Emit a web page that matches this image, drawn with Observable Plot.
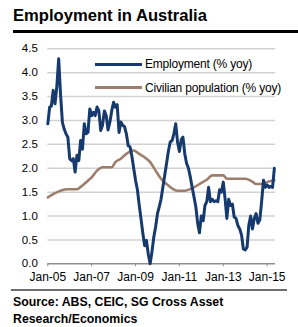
<!DOCTYPE html>
<html>
<head>
<meta charset="utf-8">
<script src="https://cdn.jsdelivr.net/npm/d3@7"></script>
<script src="https://cdn.jsdelivr.net/npm/@observablehq/plot@0.6"></script>
<style>
  html, body { margin: 0; padding: 0; background: #fff; }
  #wrap { position: relative; width: 298px; height: 327px; overflow: hidden; font-family: "Liberation Sans", Arial, sans-serif; color: #000; }
  #title { position: absolute; left: 13px; top: 7.7px; font-weight: bold; font-size: 16.6px; line-height: 16.6px; white-space: nowrap; }
  #topRule { position: absolute; left: 13px; right: 0; top: 30px; height: 3px; background: #000; }
  #chart { position: absolute; left: 0; top: 40px; }
  .leg { position: absolute; left: 95px; width: 47px; height: 3px; }
  .legText { position: absolute; left: 145px; font-size: 12px; line-height: 14px; letter-spacing: -0.2px; white-space: nowrap; }
  #botRule { position: absolute; left: 11px; width: 276px; top: 289px; height: 2px; background: #6e6e6e; }
  #source { position: absolute; left: 13px; top: 294px; font-weight: bold; font-size: 12.3px; line-height: 17px; white-space: nowrap; }
</style>
</head>
<body>
<div id="wrap">
  <div id="title">Employment in Australia</div>
  <div id="topRule"></div>
  <div id="chart"></div>
  <div class="leg" id="legEmp" style="top:62.5px"></div>
  <div class="legText" id="legEmpText" style="top:57.3px"></div>
  <div class="leg" id="legPop" style="top:85.5px"></div>
  <div class="legText" id="legPopText" style="top:80.6px"></div>
  <div id="botRule"></div>
  <div id="source">Source: ABS, CEIC, SG Cross Asset<br>Research/Economics</div>
</div>
<script>
// ---- data ----
const seriesNames = ["Employment (% yoy)", "Civilian population (% yoy)"];
const seriesColors = ["#16396e", "#9e7d6c"];

// Employment, monthly from Jan-2005
const empStart = "2005-01";
const empValues = [
  2.93,3.28,3.30,3.63,3.35,3.72,4.29,3.55,2.96,2.82,
  2.72,2.65,2.20,2.16,2.20,1.92,2.27,2.16,2.58,2.40,
  2.93,2.72,2.75,3.24,3.10,3.17,3.10,3.28,3.20,2.79,
  2.90,3.20,3.10,2.80,2.97,3.20,3.38,3.28,3.33,2.75,
  2.97,2.90,2.87,2.72,2.47,2.45,2.25,2.00,1.75,1.55,
  1.25,0.95,0.65,0.38,0.49,0.20,0.00,0.25,0.56,0.77,
  1.05,1.20,1.35,1.60,1.85,2.10,2.35,2.55,2.58,2.72,
  2.93,2.55,2.35,2.60,2.65,2.30,2.10,2.00,1.82,1.60,
  1.40,1.20,0.85,0.65,1.00,0.90,1.22,1.30,1.60,1.30,
  1.35,1.30,1.32,1.30,1.55,1.50,1.71,1.35,0.95,1.35,
  1.22,1.25,0.98,0.95,0.80,0.73,0.60,0.31,0.29,0.35,
  0.80,1.00,0.73,0.95,1.05,0.85,0.92,1.30,1.75,1.60,
  1.65,1.60,1.62,1.60,2.00
];

// Civilian population
const popMonths = ["2005-01","2005-04","2005-08","2005-12","2006-05","2006-08","2006-11","2007-01","2007-04","2007-07",
  "2007-12","2008-02","2008-05","2008-08","2008-12","2009-03","2009-07","2009-09","2009-12","2010-03",
  "2010-07","2010-12","2011-04","2011-08","2011-12","2012-04","2012-07","2013-01","2013-03","2014-01",
  "2014-05","2014-07","2014-11","2015-01","2015-05"];
const popValues = [1.39,1.46,1.53,1.56,1.56,1.64,1.74,1.81,1.95,2.02,
  2.02,2.13,2.20,2.30,2.37,2.30,2.20,2.13,1.95,1.78,
  1.64,1.53,1.53,1.58,1.67,1.76,1.85,1.85,1.78,1.78,
  1.72,1.67,1.67,1.71,1.75];

const yTicks = [0.0,0.5,1.0,1.5,2.0,2.5,3.0,3.5,4.0,4.5];
const xTickLabels = ["Jan-05","Jan-07","Jan-09","Jan-11","Jan-13","Jan-15"];

// ---- build tables ----
const parseM = d3.utcParse("%Y-%m");
const e0 = parseM(empStart);
const emp = empValues.map((v, i) => ({date: d3.utcMonth.offset(e0, i), value: v}));
const pop = popMonths.map((m, i) => ({date: parseM(m), value: popValues[i]}));
const parseTick = d3.utcParse("%b-%y");
const xTicks = xTickLabels.map(s => parseTick(s));

const chart = Plot.plot({
  width: 298,
  height: 250,
  marginLeft: 47.3,
  marginRight: 23,
  marginTop: 8.3,
  marginBottom: 26.7,
  style: {fontFamily: "'Liberation Sans', Arial, sans-serif", background: "transparent", color: "#000"},
  x: {type: "utc", domain: [new Date(Date.UTC(2005,0,1)), new Date(Date.UTC(2015,4,20))]},
  y: {domain: [0, 4.5]},
  marks: [
    Plot.gridY(yTicks.filter(d => d > 0), {stroke: "#d2d2d2", strokeOpacity: 1, strokeWidth: 1.5}),
    Plot.axisY(yTicks, {tickSize: 0, tickPadding: 10, tickFormat: d => d.toFixed(1), fontSize: 11.5, fill: "#000", label: null}),
    Plot.ruleY([0], {stroke: "#8f8f8f", strokeWidth: 1.5}),
    Plot.axisX(xTicks, {tickSize: 3, tickPadding: 5.5, tickFormat: d3.utcFormat("%b-%y"), fontSize: 12, stroke: "#8f8f8f", fill: "#000", label: null}),
    Plot.line(pop, {x: "date", y: "value", stroke: seriesColors[1], strokeWidth: 2.6, curve: "monotone-x"}),
    Plot.line(emp, {x: "date", y: "value", stroke: seriesColors[0], strokeWidth: 3}),
  ]
});
document.getElementById("chart").appendChild(chart);

document.getElementById("legEmp").style.background = seriesColors[0];
document.getElementById("legPop").style.background = seriesColors[1];
document.getElementById("legEmpText").textContent = seriesNames[0];
document.getElementById("legPopText").textContent = seriesNames[1];
</script>
</body>
</html>
